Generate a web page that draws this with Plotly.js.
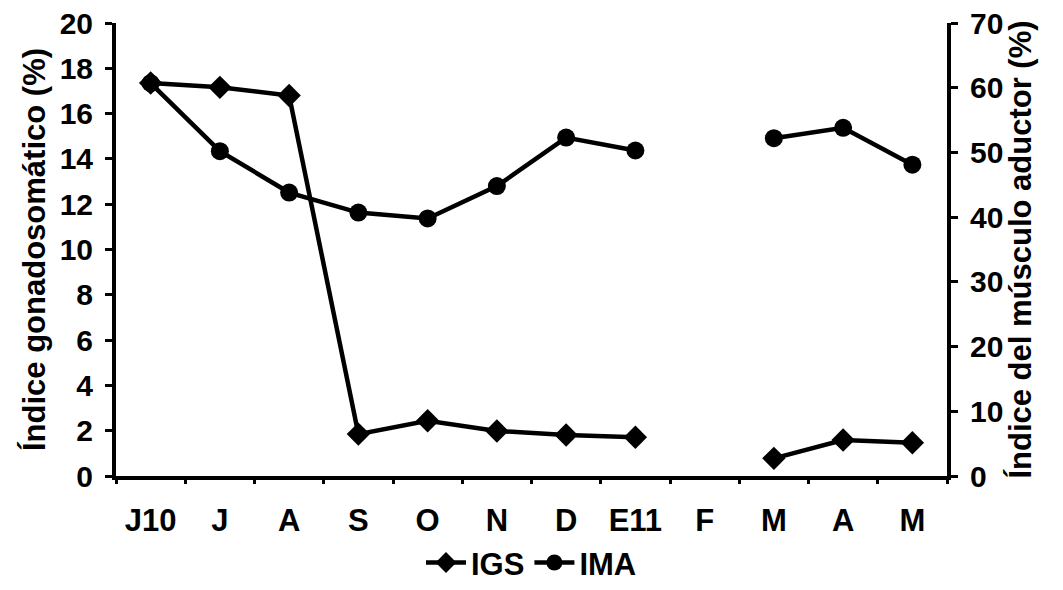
<!DOCTYPE html>
<html>
<head>
<meta charset="utf-8">
<script src="https://cdn.plot.ly/plotly-3.0.1.min.js"></script>
<style>html,body{margin:0;padding:0;background:#fff;}#chart{width:1063px;height:590px;}</style>
</head>
<body>
<div id="chart"></div>
<script>
const months = ["J10", "J", "A", "S", "O", "N", "D", "E11", "F", "M", "A", "M"];
const igs = [17.35, 17.16, 16.8, 1.85, 2.44, 1.99, 1.81, 1.71, null, 0.78, 1.59, 1.47];
const ima = [60.7, 50.2, 43.8, 40.7, 39.8, 44.8, 52.3, 50.3, null, 52.2, 53.8, 48.1];

const idx = months.map((m, i) => i);
const boundaries = months.map((m, i) => i - 0.5).concat([months.length - 0.5]);

const F = {family: "Liberation Sans, Arial, sans-serif", size: 30, color: "#000", weight: "bold"};
const FX = {family: "Liberation Sans, Arial, sans-serif", size: 31, color: "#000", weight: "bold"};

const traces = [
  {
    x: idx, y: igs, name: "IGS", type: "scatter", mode: "lines+markers",
    line: {color: "#000", width: 4.5},
    marker: {symbol: "diamond", size: 18, color: "#000"},
    connectgaps: false, yaxis: "y", xaxis: "x"
  },
  {
    x: idx, y: ima, name: "IMA", type: "scatter", mode: "lines+markers",
    line: {color: "#000", width: 4.5},
    marker: {symbol: "circle", size: 18, color: "#000"},
    connectgaps: false, yaxis: "y2", xaxis: "x"
  },
  {
    x: boundaries, y: boundaries.map(() => null), type: "scatter", mode: "lines",
    showlegend: false, hoverinfo: "skip", xaxis: "x2", yaxis: "y",
    line: {color: "rgba(0,0,0,0)"}
  }
];

const layout = {
  width: 1063, height: 590,
  paper_bgcolor: "#fff", plot_bgcolor: "#fff",
  margin: {l: 116, r: 116, t: 23, b: 114, autoexpand: false},
  font: F,
  showlegend: true,
  legend: {orientation: "h", x: 0.5, xanchor: "center", xref: "container", y: 0.046, yref: "container", yanchor: "middle", font: FX, itemwidth: 40, tracegroupgap: 0},
  xaxis: {
    range: [-0.5, months.length - 0.5],
    tickmode: "array", tickvals: idx, ticktext: months,
    ticks: "", showgrid: false, zeroline: false, automargin: false,
    showline: true, linecolor: "#000", linewidth: 4,
    tickfont: FX, ticklabelstandoff: 14
  },
  xaxis2: {
    overlaying: "x", anchor: "y", side: "bottom", automargin: false,
    range: [-0.5, months.length - 0.5],
    tickmode: "array", tickvals: boundaries, ticktext: boundaries.map(() => ""),
    ticks: "outside", ticklen: 7, tickwidth: 3, tickcolor: "#000",
    showgrid: false, zeroline: false, showline: false, showticklabels: false
  },
  yaxis: {
    range: [0, 20], dtick: 2, tick0: 0, automargin: false,
    ticks: "outside", ticklen: 7, tickwidth: 3, tickcolor: "#000",
    showgrid: false, zeroline: false,
    showline: true, linecolor: "#000", linewidth: 4,
    tickfont: F, ticklabelstandoff: 6,
    title: {text: "Índice gonadosomático (%)", font: FX, standoff: 6}
  },
  yaxis2: {
    range: [0, 70], dtick: 10, tick0: 0, automargin: false,
    overlaying: "y", side: "right", anchor: "x",
    ticks: "outside", ticklen: 7, tickwidth: 3, tickcolor: "#000",
    showgrid: false, zeroline: false,
    showline: true, linecolor: "#000", linewidth: 4,
    tickfont: F, ticklabelstandoff: 6,
    title: {text: "Índice del músculo aductor (%)", font: FX, standoff: 6}
  }
};

Plotly.newPlot("chart", traces, layout, {displayModeBar: false, staticPlot: true});
</script>
</body>
</html>
